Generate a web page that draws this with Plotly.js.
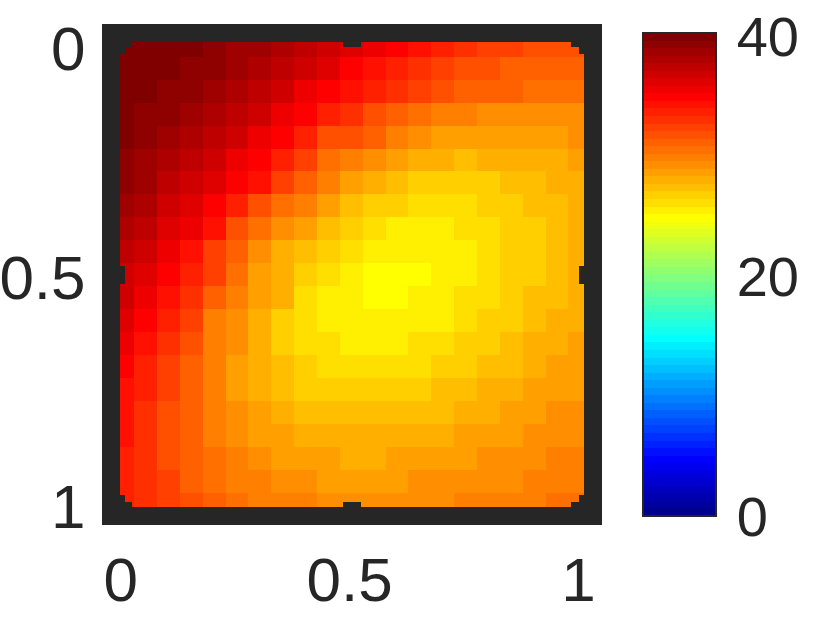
<!DOCTYPE html>
<html>
<head>
<meta charset="utf-8">
<script src="https://cdn.plot.ly/plotly-3.0.1.min.js"></script>
<style>
  html, body { margin: 0; padding: 0; background: #fff; }
</style>
</head>
<body>
<div id="plotArea" style="width:830px;height:625px;"></div>
<script>
// Grid positions, 0 to 1 in 0.05 steps
var xValues = [0, 0.05, 0.1, 0.15, 0.2, 0.25, 0.3, 0.35, 0.4, 0.45, 0.5, 0.55, 0.6, 0.65, 0.7, 0.75, 0.8, 0.85, 0.9, 0.95, 1];
var yValues = [0, 0.05, 0.1, 0.15, 0.2, 0.25, 0.3, 0.35, 0.4, 0.45, 0.5, 0.55, 0.6, 0.65, 0.7, 0.75, 0.8, 0.85, 0.9, 0.95, 1];

// Values, one list per row from the top
var zValues = [
  [39.9, 39.9, 39.9, 39.9, 39.3, 38.7, 38.7, 38.0, 37.4, 36.8, 36.2, 35.5, 34.9, 34.3, 33.7, 33.0, 32.4, 32.4, 31.8, 31.8, 31.8],
  [39.9, 39.9, 39.9, 39.3, 39.3, 38.7, 38.0, 37.4, 36.8, 36.2, 34.9, 34.3, 33.7, 33.0, 32.4, 31.8, 31.8, 31.1, 31.1, 31.1, 31.1],
  [39.9, 39.9, 39.3, 39.3, 38.7, 38.0, 37.4, 36.8, 35.5, 34.9, 34.3, 33.7, 33.0, 32.4, 31.8, 31.1, 31.1, 31.1, 30.5, 30.5, 30.5],
  [39.9, 39.3, 39.3, 38.7, 38.0, 37.4, 36.8, 35.5, 34.9, 33.7, 33.0, 31.8, 31.1, 30.5, 29.9, 29.9, 29.2, 29.2, 29.2, 29.2, 29.2],
  [39.9, 39.3, 38.7, 38.0, 37.4, 36.8, 35.5, 34.9, 33.7, 31.8, 31.8, 31.1, 29.9, 29.2, 28.6, 28.6, 28.6, 28.6, 28.6, 28.6, 29.2],
  [39.3, 38.7, 38.0, 37.4, 36.8, 35.5, 34.9, 33.7, 32.4, 30.5, 29.9, 29.2, 28.6, 28.0, 28.0, 27.4, 28.0, 28.0, 28.0, 28.0, 28.6],
  [39.3, 38.7, 37.4, 36.8, 36.2, 34.9, 34.3, 32.4, 31.1, 29.9, 28.6, 28.0, 27.4, 26.7, 26.7, 26.7, 26.7, 27.4, 27.4, 28.0, 28.0],
  [38.7, 38.0, 36.8, 36.2, 34.9, 33.7, 31.8, 30.5, 29.9, 28.6, 27.4, 26.7, 26.7, 26.1, 26.1, 26.1, 26.7, 26.7, 27.4, 27.4, 28.0],
  [38.0, 37.4, 36.2, 35.5, 34.3, 31.8, 30.5, 29.2, 28.6, 27.4, 26.7, 26.1, 25.5, 25.5, 25.5, 26.1, 26.1, 26.7, 26.7, 27.4, 28.0],
  [37.4, 36.8, 35.5, 34.3, 32.4, 31.1, 29.2, 28.0, 27.4, 26.7, 26.1, 25.5, 25.5, 25.5, 25.5, 25.5, 26.1, 26.7, 26.7, 27.4, 28.0],
  [36.8, 36.2, 34.9, 33.7, 32.4, 30.5, 28.6, 28.0, 26.7, 26.1, 25.5, 24.8, 24.8, 24.8, 25.5, 25.5, 26.1, 26.7, 26.7, 27.4, 28.0],
  [36.8, 35.5, 34.3, 33.0, 31.1, 29.9, 28.6, 28.0, 26.1, 25.5, 25.5, 24.8, 24.8, 25.5, 25.5, 26.1, 26.1, 26.7, 27.4, 27.4, 28.0],
  [36.2, 34.9, 33.7, 32.4, 29.9, 29.2, 28.0, 26.7, 26.1, 25.5, 25.5, 25.5, 25.5, 25.5, 25.5, 26.1, 26.7, 26.7, 27.4, 28.0, 28.0],
  [35.5, 34.3, 33.0, 31.8, 29.9, 29.2, 28.0, 26.7, 26.1, 26.1, 25.5, 25.5, 25.5, 26.1, 26.1, 26.7, 26.7, 27.4, 28.0, 28.0, 28.6],
  [34.9, 33.7, 32.4, 31.1, 29.9, 28.6, 28.0, 27.4, 26.7, 26.1, 26.1, 26.1, 26.1, 26.1, 26.7, 26.7, 27.4, 27.4, 28.0, 28.6, 28.6],
  [34.3, 33.7, 32.4, 31.1, 29.9, 28.6, 28.0, 27.4, 26.7, 26.7, 26.7, 26.7, 26.7, 26.7, 27.4, 27.4, 28.0, 28.0, 28.6, 28.6, 28.6],
  [34.3, 33.0, 31.8, 31.1, 29.9, 29.2, 28.6, 28.0, 27.4, 27.4, 27.4, 27.4, 27.4, 27.4, 27.4, 28.0, 28.0, 28.6, 28.6, 29.2, 29.2],
  [34.3, 33.0, 31.8, 31.1, 29.9, 29.2, 28.6, 28.6, 28.0, 28.0, 28.0, 28.0, 28.0, 28.0, 28.0, 28.6, 28.6, 28.6, 29.2, 29.2, 29.2],
  [33.7, 33.0, 31.8, 31.1, 30.5, 29.9, 29.2, 28.6, 28.6, 28.6, 28.0, 28.0, 28.6, 28.6, 28.6, 28.6, 29.2, 29.2, 29.2, 29.9, 29.9],
  [33.7, 33.0, 32.4, 31.1, 30.5, 29.9, 29.9, 29.2, 29.2, 28.6, 28.6, 28.6, 28.6, 29.2, 29.2, 29.2, 29.2, 29.2, 29.9, 29.9, 29.9],
  [33.7, 33.0, 32.4, 31.8, 31.1, 30.5, 29.9, 29.9, 29.9, 29.2, 29.2, 29.2, 29.2, 29.2, 29.2, 29.9, 29.9, 29.9, 29.9, 30.5, 30.5]
];

var axisTicks = [0, 0.5, 1];
var axisLabels = ["0", "0.5", "1"];
var barTicks = [0, 20, 40];
var barLabels = ["0", "20", "40"];

// MATLAB jet with 64 flat levels
function jetScale(n) {
    var stops = [];
    for (var i = 0; i < n; i++) {
        var p = (i + 1) / n;
        var r = Math.min(1, Math.max(0, Math.min(4 * p - 1.5, 4.5 - 4 * p)));
        var g = Math.min(1, Math.max(0, Math.min(4 * p - 0.5, 3.5 - 4 * p)));
        var b = Math.min(1, Math.max(0, Math.min(4 * p + 0.5, 2.5 - 4 * p)));
        var col = "rgb(" + Math.round(r * 255) + "," + Math.round(g * 255) + "," + Math.round(b * 255) + ")";
        stops.push([i / n, col]);
        stops.push([(i + 1) / n, col]);
    }
    return stops;
}

var ink = "#262626";
var fontName = "Liberation Sans, Arial, sans-serif";
var zMax = 40.25;

var heatTrace = {
    type: "heatmap",
    x: xValues,
    y: yValues,
    z: zValues,
    zmin: 0,
    zmax: zMax,
    colorscale: jetScale(64),
    hoverinfo: "skip",
    colorbar: {
        thicknessmode: "pixels",
        thickness: 73,
        lenmode: "pixels",
        len: 483,
        xanchor: "left",
        x: (643 - 120) / 464,
        xpad: 0,
        yanchor: "bottom",
        y: (507 - 516) / 465,
        ypad: 0,
        outlinewidth: 2,
        outlinecolor: ink,
        tickmode: "array",
        tickvals: barTicks,
        ticktext: barLabels,
        // clear outside ticks only push the labels off the bar, real marks are the shapes below
        ticks: "outside",
        ticklen: 9,
        tickwidth: 1,
        tickcolor: "rgba(0,0,0,0)",
        tickfont: {family: fontName, size: 56, color: ink}
    }
};

// The thick frame is the axis line, the notches are its own ticks
function axisStyle(range, standoff, shift) {
    return {
        range: range,
        tickmode: "array",
        tickvals: axisTicks,
        ticktext: axisLabels,
        tickfont: {family: fontName, size: 62, color: ink},
        tickangle: 0,
        ticks: "inside",
        ticklen: 5,
        tickwidth: 18,
        tickcolor: ink,
        showline: true,
        linewidth: 18,
        linecolor: ink,
        mirror: "allticks",
        showgrid: false,
        zeroline: false,
        ticklabelstandoff: standoff,
        ticklabelshift: shift
    };
}

// Inward ticks on the right edge of the colorbar
var barMarks = [20, 40].map(function(v) {
    var py = 516 - v / zMax * 483;
    return {
        type: "line",
        xref: "paper",
        yref: "paper",
        x0: (711 - 120) / 464,
        x1: (716 - 120) / 464,
        y0: (507 - py) / 465,
        y1: (507 - py) / 465,
        line: {color: ink, width: 2}
    };
});

var layout = {
    width: 830,
    height: 625,
    margin: {l: 120, r: 246, t: 42, b: 118},
    paper_bgcolor: "#fff",
    plot_bgcolor: "#fff",
    xaxis: axisStyle([-0.0061, 1.0079], 2, -2),
    yaxis: axisStyle([1.007, -0.007], 4, -3),
    shapes: barMarks
};

Plotly.newPlot("plotArea", [heatTrace], layout, {displayModeBar: false, staticPlot: true});
</script>
</body>
</html>
